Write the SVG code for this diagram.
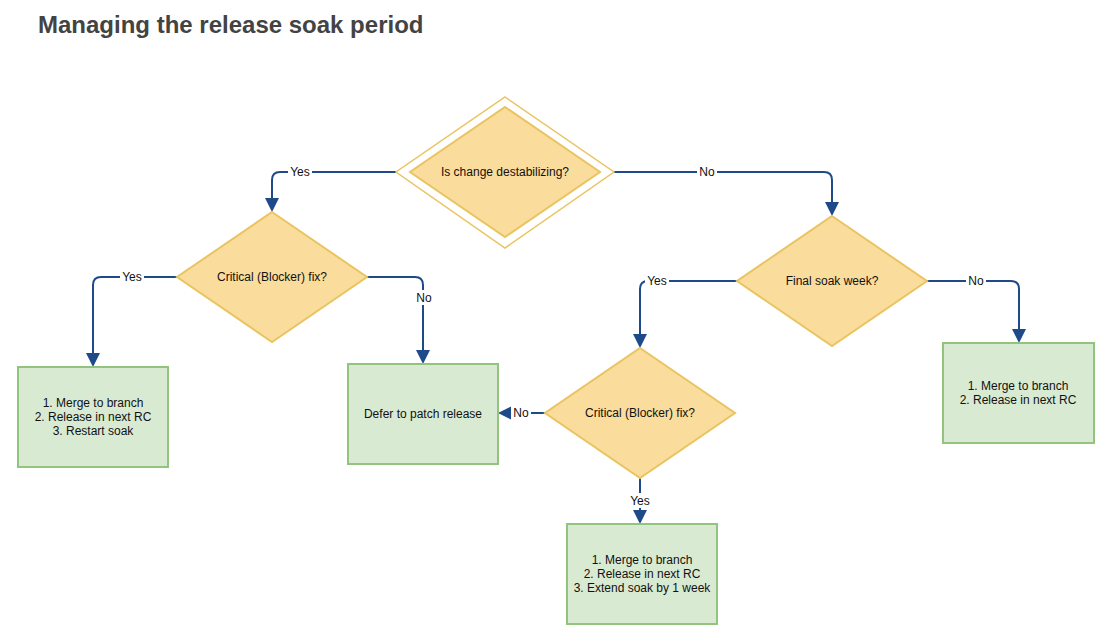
<svg xmlns="http://www.w3.org/2000/svg" width="1116" height="644" viewBox="0 0 1116 644">
<style>
.dia{fill:#fadc9c;stroke:#e9c460;stroke-width:2}
.dia2{fill:none;stroke:#e9c460;stroke-width:1.5}
.box{fill:#d9ead3;stroke:#93c47d;stroke-width:2}
.t{font-family:"Liberation Sans",Arial,sans-serif;font-size:12px;fill:#111;text-anchor:middle}
.lbl{fill:#fff}
.ed{fill:none;stroke:#1f4a8a;stroke-width:2}
.title{font-family:"Liberation Sans",Arial,sans-serif;font-size:24px;font-weight:bold;fill:#434343}
</style>
<defs>
<marker id="arr" viewBox="0 0 14 14" refX="12" refY="7" markerWidth="14" markerHeight="14" markerUnits="userSpaceOnUse" orient="auto">
<path d="M0,0 L14,7 L0,14 z" fill="#1f4a8a"/>
</marker>
</defs>
<rect width="1116" height="644" fill="#fff"/>
<text class="title" x="38" y="33">Managing the release soak period</text>

<g id="connectors">
<path class="ed" marker-end="url(#arr)" d="M396,172 H280 Q272,172 272,180 V210"/>
<path class="ed" marker-end="url(#arr)" d="M614,172 H824 Q832,172 832,180 V214"/>
<path class="ed" marker-end="url(#arr)" d="M177,277 H101 Q93,277 93,285 V365"/>
<path class="ed" marker-end="url(#arr)" d="M367,277 H415 Q423,277 423,285 V362"/>
<path class="ed" marker-end="url(#arr)" d="M737,281 H648 Q640,281 640,289 V346"/>
<path class="ed" marker-end="url(#arr)" d="M927,281 H1011 Q1019,281 1019,289 V341"/>
<path class="ed" marker-end="url(#arr)" d="M545,413 H500"/>
<path class="ed" marker-end="url(#arr)" d="M640,478 V522"/>
<rect class="lbl" x="288" y="164" width="24" height="15"/>
<text class="t" x="300" y="176">Yes</text>
<rect class="lbl" x="697" y="164" width="20" height="15"/>
<text class="t" x="707" y="176">No</text>
<rect class="lbl" x="120" y="269" width="24" height="15"/>
<text class="t" x="132" y="281">Yes</text>
<rect class="lbl" x="413" y="290" width="20" height="15"/>
<text class="t" x="424" y="302">No</text>
<rect class="lbl" x="645" y="273" width="24" height="15"/>
<text class="t" x="657" y="285">Yes</text>
<rect class="lbl" x="966" y="273" width="20" height="15"/>
<text class="t" x="976" y="285">No</text>
<rect class="lbl" x="511" y="405" width="20" height="15"/>
<text class="t" x="521" y="417">No</text>
<rect class="lbl" x="628" y="493" width="24" height="15"/>
<text class="t" x="640" y="505">Yes</text>
</g>

<g id="n_destab">
<polygon class="dia2" points="505,97 614,172 505,248 396,172" fill="#fff"/>
<polygon class="dia" points="505,107 600,172 505,237 410,172"/>
<text class="t" x="505" y="176">Is change destabilizing?</text>
</g>
<g id="n_crit1">
<polygon class="dia" points="272,212 367,277 272,342 177,277"/>
<text class="t" x="272" y="281">Critical (Blocker) fix?</text>
</g>
<g id="n_final">
<polygon class="dia" points="832,216 927,281 832,346 737,281"/>
<text class="t" x="832" y="285">Final soak week?</text>
</g>
<g id="n_crit2">
<polygon class="dia" points="640,348 735,413 640,478 545,413"/>
<text class="t" x="640" y="417">Critical (Blocker) fix?</text>
</g>
<g id="n_restart">
<rect class="box" x="18" y="367" width="150" height="100"/>
<text class="t" x="93" y="407">1. Merge to branch</text>
<text class="t" x="93" y="421">2. Release in next RC</text>
<text class="t" x="93" y="435">3. Restart soak</text>
</g>
<g id="n_defer">
<rect class="box" x="348" y="364" width="150" height="100"/>
<text class="t" x="423" y="418">Defer to patch release</text>
</g>
<g id="n_next">
<rect class="box" x="943" y="343" width="151" height="100"/>
<text class="t" x="1018" y="390">1. Merge to branch</text>
<text class="t" x="1018" y="404">2. Release in next RC</text>
</g>
<g id="n_extend">
<rect class="box" x="567" y="524" width="150" height="100"/>
<text class="t" x="642" y="564">1. Merge to branch</text>
<text class="t" x="642" y="578">2. Release in next RC</text>
<text class="t" x="642" y="592">3. Extend soak by 1 week</text>
</g>
</svg>
